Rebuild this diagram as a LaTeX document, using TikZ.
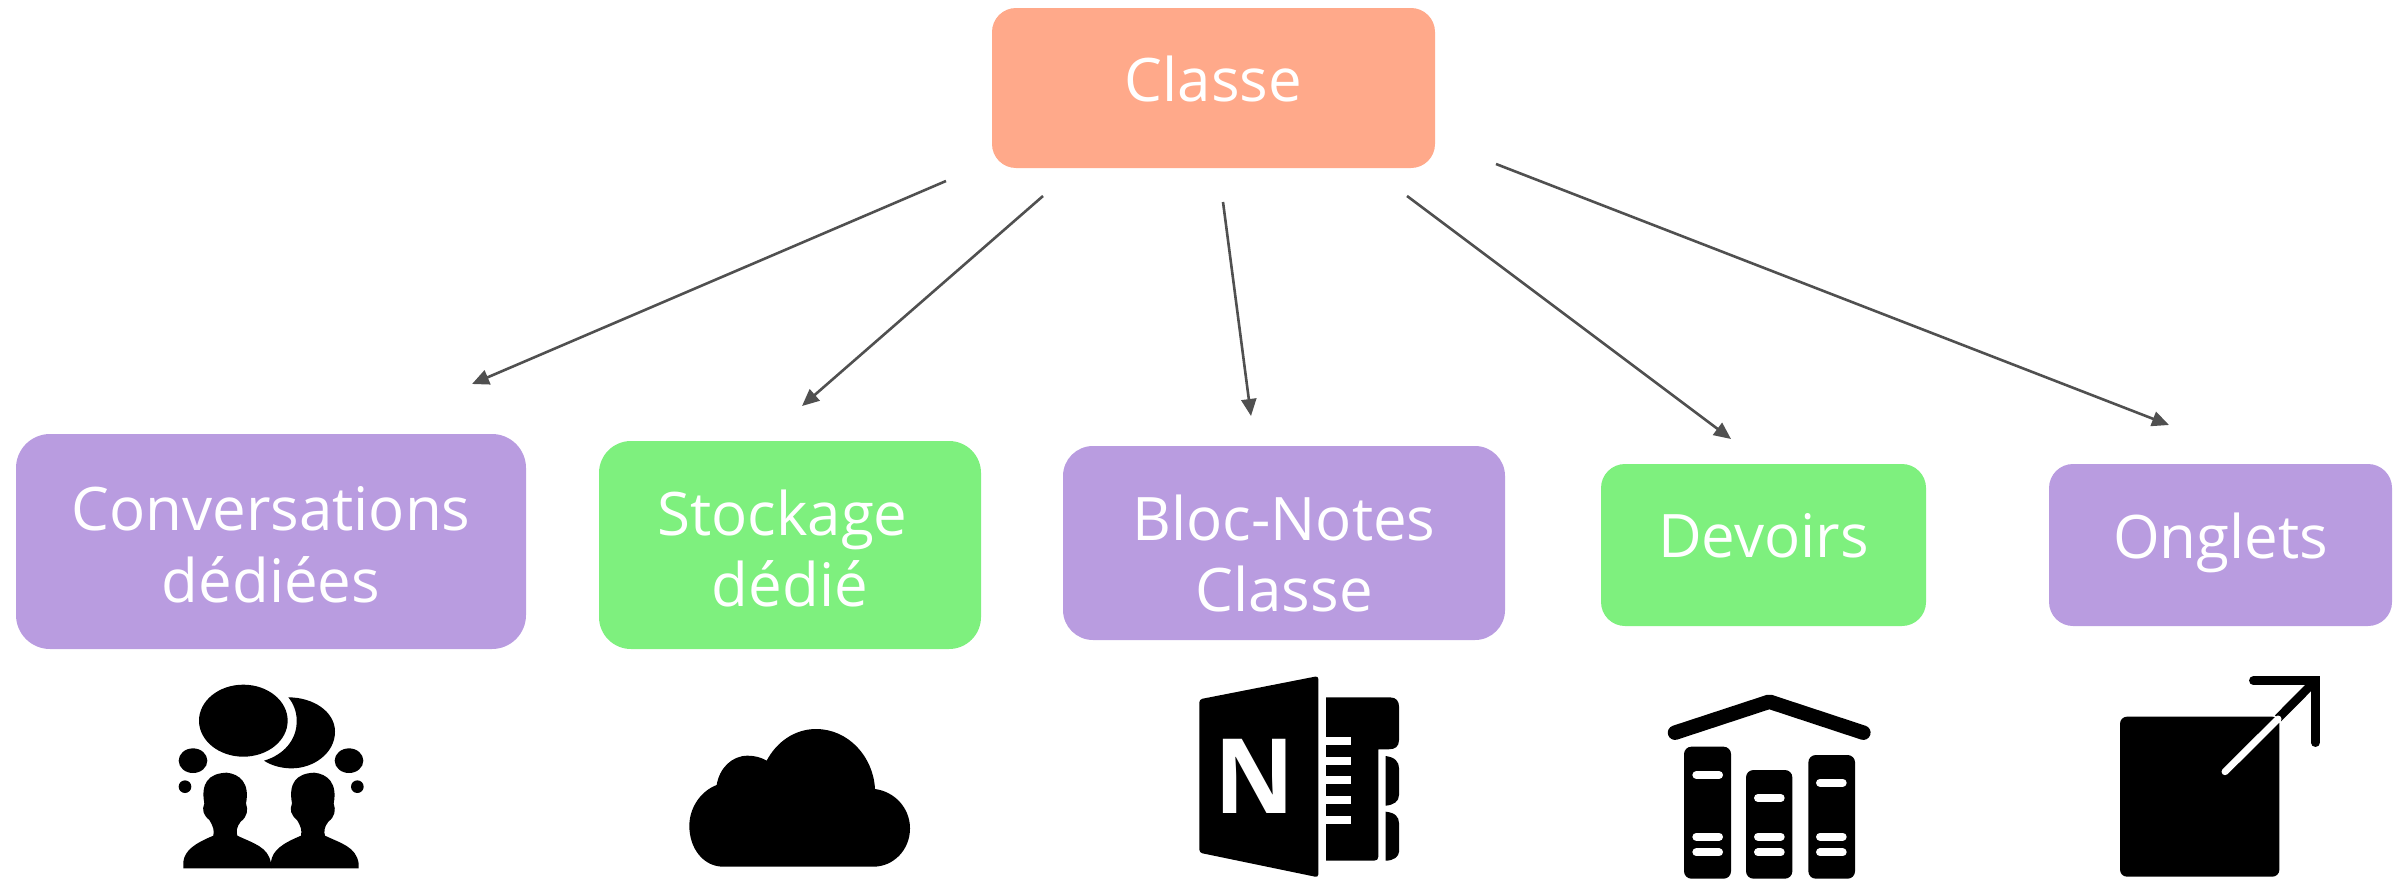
\documentclass[tikz,border=0pt]{standalone}
\usepackage{fontspec}
\setmainfont{Open Sans}
\usetikzlibrary{arrows.meta}
\definecolor{boxpurple}{HTML}{B99CE0}
\definecolor{boxgreen}{HTML}{7EF07E}
\definecolor{boxorange}{HTML}{FFA98A}
\definecolor{arrowgrey}{HTML}{505050}
\tikzset{
  basebox/.style={rounded corners=#1,inner sep=0pt},
  purplebox/.style={basebox=#1,fill=boxpurple},
  greenbox/.style={basebox=#1,fill=boxgreen},
  orangebox/.style={basebox=#1,fill=boxorange},
  boxtext/.style={inner sep=0pt,text=white,align=center,font=\fontsize{30}{35.8}\selectfont},
  size/.style n args={2}{minimum width=#1*0.5pt,minimum height=#2*0.5pt},
  link/.style={draw=arrowgrey,line width=1.3pt,-{Triangle[length=8.5pt,width=7.5pt]}},
  whitebar/.style={draw=white,line width=4pt,line cap=round},
  icon/.style={x=0.16667pt,y=-0.16667pt},
}
\begin{document}
\begin{tikzpicture}[x=0.5pt,y=-0.5pt]
\useasboundingbox (0,0) rectangle (2401,878);
\node[orangebox=12pt,size={443}{160}] (classe) at (1213.5,88) {};
\node[boxtext] (classet) at ([yshift=4.5pt]classe.center) {Classe};
\node[purplebox=17pt,size={510}{215}] (conv) at (271,541.5) {};
\node[boxtext] (convt) at ([yshift=-1.5pt]conv.center) {Conversations\\dédiées};
\node[greenbox=16pt,size={382}{208}] (stock) at (790,545) {};
\node[boxtext] (stockt) at ([yshift=-1.8pt]stock.center) {Stockage\hspace*{7.6pt}\\dédié};
\node[purplebox=15pt,size={442}{194}] (bloc) at (1284,543) {};
\node[boxtext] (bloct) at ([yshift=-5.3pt]bloc.center) {Bloc-Notes\\Classe};
\node[greenbox=12pt,size={325}{162}] (dev) at (1763.5,545) {};
\node[boxtext] (devt) at ([yshift=4.5pt]dev.center) {Devoirs};
\node[purplebox=12pt,size={343}{162}] (ong) at (2220.5,545) {};
\node[boxtext] (ongt) at ([yshift=0.8pt]ong.center) {Onglets};

\coordinate (a1s) at (946,181); \coordinate (a1e) at (472,384);
\coordinate (a2s) at (1043,196); \coordinate (a2e) at (802,406);
\coordinate (a3s) at (1223,202); \coordinate (a3e) at (1251,416);
\coordinate (a4s) at (1407,196); \coordinate (a4e) at (1731,439);
\coordinate (a5s) at (1496,164); \coordinate (a5e) at (2169,425);
\draw[link] (a1s) -- (a1e);
\draw[link] (a2s) -- (a2e);
\draw[link] (a3s) -- (a3e);
\draw[link] (a4s) -- (a4e);
\draw[link] (a5s) -- (a5e);

\begin{scope}
\clip (0,0) rectangle (2401,878);
% people and speech bubbles
\begin{scope}[shift={(170,670)},icon]
\fill (220,152) ellipse [x radius=133,y radius=108];
\fill (355,82) .. controls (430,82) and (495,125) .. (495,185)
  .. controls (495,250) and (430,295) .. (365,295)
  .. controls (335,295) and (305,287) .. (282,272)
  .. controls (340,255) and (382,210) .. (380,150)
  .. controls (380,125) and (370,100) .. (355,82) -- cycle;
\fill (69,272) ellipse [x radius=43,y radius=37];
\fill (537,272) ellipse [x radius=43,y radius=37];
\fill (45,350) circle [radius=19];
\fill (562,350) circle [radius=19];
\foreach \dx in {0,263} {
\fill[xshift=\dx*0.16667pt] (40,595) -- (40,575)
  .. controls (45,540) and (75,520) .. (130,497)
  .. controls (133,480) and (130,470) .. (118,450)
  .. controls (100,435) and (95,420) .. (103,400)
  .. controls (92,340) and (115,310) .. (170,308)
  .. controls (210,312) and (240,340) .. (228,400)
  .. controls (235,420) and (232,440) .. (212,455)
  .. controls (200,470) and (198,485) .. (202,497)
  .. controls (250,520) and (295,530) .. (303,580)
  -- (303,595) -- cycle;
}
\end{scope}
% cloud
\begin{scope}[shift={(680,720)},icon]
\fill (130,440) .. controls (70,440) and (28,385) .. (28,318)
  .. controls (28,260) and (65,212) .. (110,195)
  .. controls (118,145) and (155,107) .. (203,107)
  .. controls (225,107) and (245,113) .. (260,122)
  .. controls (290,65) and (345,27) .. (408,27)
  .. controls (505,27) and (580,110) .. (585,207)
  .. controls (645,215) and (690,265) .. (690,325)
  .. controls (690,390) and (640,440) .. (580,440) -- cycle;
\end{scope}
% notebook
\begin{scope}[shift={(1190,670)},icon]
\fill[rounded corners=1.5pt] (28,88) -- (385,18) -- (385,622) -- (28,548) -- cycle;
\node[text=white,inner sep=0pt,font=\fontsize{52}{52}\selectfont\bfseries,xscale=0.95] (nletter) at (195,320) {N};
\fill (408,82) -- (600,82) .. controls (620,82) and (627,95) .. (627,110) -- (627,210)
  .. controls (627,230) and (615,238) .. (595,238) -- (565,238) -- (565,560)
  .. controls (565,568) and (560,572) .. (552,572) -- (408,572) -- cycle;
\foreach \yy in {201,261,319,377,437} { \fill[white] (408,\yy) rectangle (483,\yy+24); }
\fill (587,258) .. controls (615,262) and (627,275) .. (627,295) -- (627,375)
  .. controls (627,395) and (610,405) .. (587,407) -- cycle;
\fill (587,425) .. controls (615,428) and (627,440) .. (627,460) -- (627,545)
  .. controls (627,560) and (610,572) .. (587,572) -- cycle;
\end{scope}
% books
\begin{scope}[shift={(1660,680)},icon]
\draw[line width=7.25pt,line cap=round,line join=round] (45,158) -- (328,65) -- (610,158);
\fill[rounded corners=3.7pt] (72,200) rectangle (213,596);
\fill[rounded corners=3.7pt] (258,270) rectangle (397,596);
\fill[rounded corners=3.7pt] (445,225) rectangle (585,596);
\foreach \xx/\yy in {143/285,143/470,143/517,328/354,328/470,328/517,514/308,514/470,514/517}
  { \draw[whitebar] (\xx-34,\yy) -- (\xx+34,\yy); }
\end{scope}
% square with arrow
\begin{scope}[shift={(2050,660)},icon]
\fill[rounded corners=3.5pt] (210,170) rectangle (688,650);
\draw[line width=4.3pt,line cap=round,miter limit=10] (610,62) -- (796,62) -- (796,248);
\draw[line width=4.3pt] (796,62) -- (684,175);
\draw[white,line width=3.5pt,line cap=round] (684,177) -- (525,335);
\end{scope}
\end{scope}
\end{tikzpicture}
\end{document}
